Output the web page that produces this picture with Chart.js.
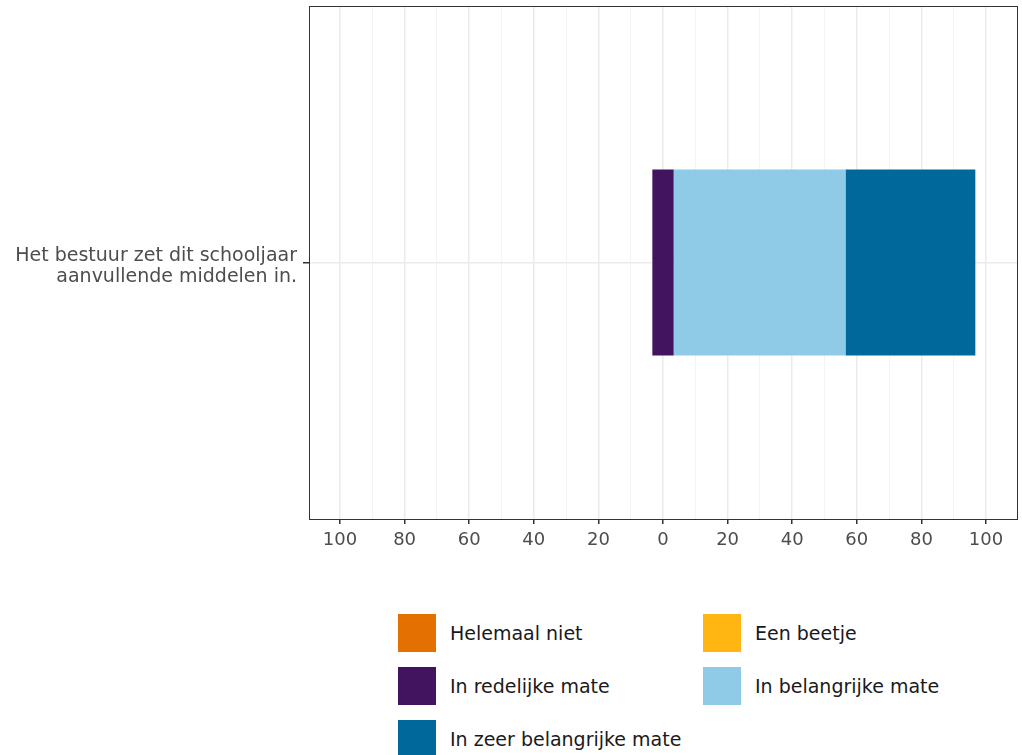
<!DOCTYPE html>
<html>
<head>
<meta charset="utf-8">
<script src="https://cdn.jsdelivr.net/npm/chart.js@4"></script>
<style>
  body { margin: 0; background: #fff; font-family: "DejaVu Sans", Verdana, sans-serif; }
  #wrap { position: relative; width: 1022px; height: 755px; overflow: hidden; }
  #box { position: absolute; left: 0; top: 0; width: 1022px; height: 575px; }
  #legend { position: absolute; left: 398px; top: 614px; width: 620px; }
  .item { position: absolute; height: 38px; display: flex; align-items: center; font-size: 19px; color: #1a1a1a; }
  .item span.sw { width: 38px; height: 38px; margin-right: 14px; display: inline-block; }
</style>
</head>
<body>
<div id="wrap">
  <div id="box"><canvas id="grafico"></canvas></div>
  <div id="legend"></div>
</div>
<script>
// categorieen en waarden (in %)
const vragen = [['Het bestuur zet dit schooljaar', 'aanvullende middelen in.']];
const antwoorden = ['Helemaal niet', 'Een beetje', 'In redelijke mate', 'In belangrijke mate', 'In zeer belangrijke mate'];
const kleuren = ['#E37000', '#FFB612', '#42145F', '#8FCAE7', '#01689B'];

const helemaalNiet = [0];
const eenBeetje = [0];
const redelijk = [6.6];
const belangrijk = [53.2];
const zeerBelangrijk = [40.2];

// as: hoofdlijnen per 20 (met label), hulplijnen per 10
const xTicks = [-100, -90, -80, -70, -60, -50, -40, -30, -20, -10, 0, 10, 20, 30, 40, 50, 60, 70, 80, 90, 100];

// begin en eind van elk blok (middelste categorie rond 0 verdeeld)
const blokken = [[], [], [], [], []]
vragen.forEach((q, i) => {
    let r = redelijk[i] / 2
    let links = -r - eenBeetje[i]
    blokken[0].push([links - helemaalNiet[i], links])
    blokken[1].push([-r - eenBeetje[i], -r])
    blokken[2].push([-r, r])
    blokken[3].push([r, r + belangrijk[i]])
    blokken[4].push([r + belangrijk[i], r + belangrijk[i] + zeerBelangrijk[i]])
})

const datasets = antwoorden.map((naam, k) => ({
    label: naam,
    data: blokken[k].map(b => b[0] === b[1] ? null : b),
    backgroundColor: kleuren[k],
    borderWidth: 0,
    grouped: false,
    barPercentage: 0.363,
    categoryPercentage: 1
}))

// rand om het plotgebied
const randPlugin = {
    id: 'rand',
    afterDraw(chart) {
        const a = chart.chartArea
        const c = chart.ctx
        c.save()
        c.strokeStyle = '#333333'
        c.lineWidth = 1
        c.strokeRect(Math.round(a.left) + 0.5, Math.round(a.top) + 0.5, Math.round(a.right - a.left), Math.round(a.bottom - a.top))
        c.restore()
    }
}

const hoofd = (ctx) => ctx.tick && ctx.tick.value % 20 === 0

new Chart(document.getElementById('grafico'), {
    type: 'bar',
    data: { labels: vragen, datasets: datasets },
    options: {
        indexAxis: 'y',
        responsive: true,
        maintainAspectRatio: false,
        animation: false,
        layout: { padding: { top: 6, right: 5, left: 0, bottom: 0 } },
        plugins: { legend: { display: false }, tooltip: { enabled: false } },
        scales: {
            x: {
                min: -109.6,
                max: 109.6,
                afterBuildTicks: (s) => { s.ticks = xTicks.map(v => ({ value: v })) },
                afterFit: (s) => { s.height = 56; s.paddingLeft = 0; s.paddingRight = 0 },
                border: { display: false },
                grid: {
                    color: (ctx) => hoofd(ctx) ? '#EBEBEB' : '#F4F4F4',
                    lineWidth: (ctx) => hoofd(ctx) ? 1.5 : 1,
                    tickColor: (ctx) => hoofd(ctx) ? '#333333' : 'rgba(0,0,0,0)',
                    tickLength: 5,
                    tickWidth: 1.5
                },
                ticks: {
                    autoSkip: false,
                    maxRotation: 0,
                    padding: 6,
                    color: '#4D4D4D',
                    font: { family: 'DejaVu Sans', size: 18 },
                    callback: (v) => v % 20 === 0 ? Math.abs(v) : ''
                }
            },
            y: {
                afterFit: (s) => { s.width = 309; s.paddingTop = 0; s.paddingBottom = 0 },
                border: { display: false },
                grid: { offset: false, color: '#EBEBEB', lineWidth: 1.5, tickColor: '#333333', tickLength: 6, tickWidth: 1.5 },
                ticks: {
                    padding: 6,
                    labelOffset: 4,
                    color: '#4D4D4D',
                    font: { family: 'DejaVu Sans', size: 19, lineHeight: 1.15 }
                }
            }
        }
    },
    plugins: [randPlugin]
});

// legenda in twee kolommen
const legenda = document.getElementById('legend')
antwoorden.forEach((naam, i) => {
    let el = document.createElement('div')
    el.className = 'item'
    el.style.left = (i % 2) * 305 + 'px'
    el.style.top = Math.floor(i / 2) * 53 + 'px'
    el.innerHTML = '<span class="sw" style="background:' + kleuren[i] + '"></span>' + naam
    legenda.appendChild(el)
})
</script>
</body>
</html>
